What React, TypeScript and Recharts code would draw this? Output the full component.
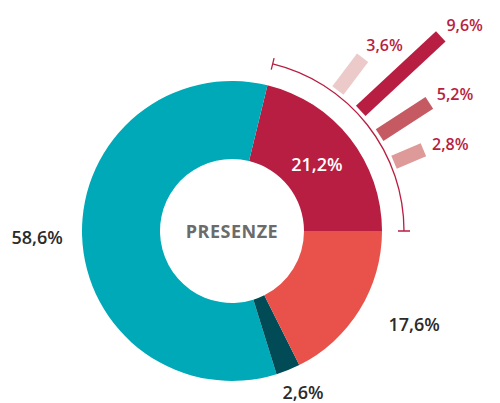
import {
  PieChart,
  Pie,
  Cell,
  RadialBarChart,
  RadialBar,
  PolarAngleAxis,
  PolarRadiusAxis,
} from 'recharts';

// main donut (share of "presenze")
const sliceKeys = ['quota-a', 'quota-b', 'quota-c', 'quota-d'];
const sliceValues = [21.2, 58.6, 2.6, 17.6];
const sliceColors = ['#b81e41', '#00a9b8', '#004b56', '#e9524a'];

// breakdown of the crimson slice
const detailKeys = ['det-1', 'det-2', 'det-3', 'det-4'];
const detailValues = [3.6, 9.6, 5.2, 2.8];
const detailColors = ['#eccaca', '#b81e41', '#c55a63', '#dd9a99'];

const centerText = 'PRESENZE';

const CX = 232;
const CY = 231;
const RAD = Math.PI / 180;
const FONT = '"Open Sans", sans-serif';
const NO_MARGIN = { top: 0, right: 0, bottom: 0, left: 0 };

const fmt = (v: number) => v.toFixed(1).replace('.', ',') + '%';

const sliceData = sliceKeys.map((key, i) => ({
  key,
  value: sliceValues[i],
  color: sliceColors[i],
}));

const detailData = detailKeys.map((key, i) => ({
  key,
  value: detailValues[i],
  color: detailColors[i],
}));

const pt = (cx: number, cy: number, r: number, a: number) => ({
  x: cx + r * Math.cos(-a * RAD),
  y: cy + r * Math.sin(-a * RAD),
});

// label placement tweaks for the outer labels
const outerLabelPos = [
  null,
  { r: 195, dx: 0, dy: 0 },
  { r: 174, dx: 6, dy: 0 },
  { r: 200, dx: 12, dy: -12 },
];

function SliceLabel(props: any) {
  const { cx, cy, midAngle, innerRadius, outerRadius, startAngle, endAngle, index, value } = props;
  if (index === 0) {
    const p = pt(cx, cy, (innerRadius + outerRadius) / 2 - 3, midAngle);
    const r = 172;
    const a0 = pt(cx, cy, r, startAngle);
    const a1 = pt(cx, cy, r, endAngle);
    const t0a = pt(cx, cy, r - 6, startAngle);
    const t0b = pt(cx, cy, r + 6, startAngle);
    const t1a = pt(cx, cy, r - 6, endAngle);
    const t1b = pt(cx, cy, r + 6, endAngle);
    const d =
      `M ${t0a.x} ${t0a.y} L ${t0b.x} ${t0b.y} ` +
      `M ${a0.x} ${a0.y} A ${r} ${r} 0 0 0 ${a1.x} ${a1.y} ` +
      `M ${t1a.x} ${t1a.y} L ${t1b.x} ${t1b.y}`;
    return (
      <g>
        <text
          x={p.x}
          y={p.y}
          fill="#ffffff"
          textAnchor="middle"
          dominantBaseline="central"
          fontSize={18}
          fontWeight={600}
          fontFamily={FONT}
        >
          {fmt(value)}
        </text>
        <path d={d} stroke="#b81e41" strokeWidth={1.3} fill="none" />
        {/* centre caption */}
        <text
          x={cx}
          y={cy}
          fill="#6b6b6b"
          textAnchor="middle"
          dominantBaseline="central"
          fontSize={18}
          fontWeight={700}
          fontFamily={FONT}
          letterSpacing={0.5}
        >
          {centerText}
        </text>
      </g>
    );
  }
  const o = outerLabelPos[index]!;
  const p = pt(cx, cy, o.r, midAngle);
  return (
    <text
      x={p.x + o.dx}
      y={p.y + o.dy}
      fill="#2b2b2b"
      textAnchor="middle"
      dominantBaseline="central"
      fontSize={18}
      fontWeight={600}
      fontFamily={FONT}
    >
      {fmt(value)}
    </text>
  );
}

function DetailBar(props: any) {
  const { cx, cy, innerRadius, outerRadius, startAngle, endAngle, payload } = props;
  const mid = (startAngle + endAngle) / 2;
  const ux = Math.cos(-mid * RAD);
  const uy = Math.sin(-mid * RAD);
  const w = 7;
  const px = -uy * w;
  const py = ux * w;
  const ax = cx + ux * innerRadius;
  const ay = cy + uy * innerRadius;
  const bx = cx + ux * outerRadius;
  const by = cy + uy * outerRadius;
  const points = [
    [ax + px, ay + py],
    [bx + px, by + py],
    [bx - px, by - py],
    [ax - px, ay - py],
  ]
    .map((q) => q.join(','))
    .join(' ');
  const lp = pt(cx, cy, outerRadius + 16, mid);
  return (
    <g>
      <polygon points={points} fill={payload.color} />
      <text
        x={lp.x - 6}
        y={lp.y}
        fill="#b81e41"
        textAnchor="start"
        dominantBaseline="central"
        fontSize={16}
        fontWeight={600}
        fontFamily={FONT}
      >
        {fmt(payload.value)}
      </text>
    </g>
  );
}

export default function App() {
  return (
    <div style={{ position: 'absolute', left: 0, top: 0, width: 500, height: 403, background: '#fff' }}>
      <div style={{ position: 'absolute', left: 0, top: 0 }}>
        <PieChart width={500} height={403} margin={NO_MARGIN}>
          <Pie
            data={sliceData}
            dataKey="value"
            nameKey="key"
            cx={CX}
            cy={CY}
            innerRadius={72}
            outerRadius={150}
            startAngle={0}
            endAngle={360}
            stroke="none"
            label={SliceLabel}
            labelLine={false}
            isAnimationActive={false}
          >
            {sliceData.map((d) => (
              <Cell key={d.key} fill={d.color} />
            ))}
          </Pie>
        </PieChart>
      </div>
      <div style={{ position: 'absolute', left: 0, top: 0 }}>
        <RadialBarChart
          width={500}
          height={403}
          margin={NO_MARGIN}
          cx={CX}
          cy={CY}
          data={detailData}
          layout="centric"
          innerRadius={176}
          outerRadius={290}
          startAngle={48}
          endAngle={8}
        >
          <PolarAngleAxis type="category" dataKey="key" tick={false} axisLine={false} />
          <PolarRadiusAxis type="number" domain={[0, 'dataMax']} tick={false} axisLine={false} />
          <RadialBar dataKey="value" shape={DetailBar} isAnimationActive={false} />
        </RadialBarChart>
      </div>
    </div>
  );
}
